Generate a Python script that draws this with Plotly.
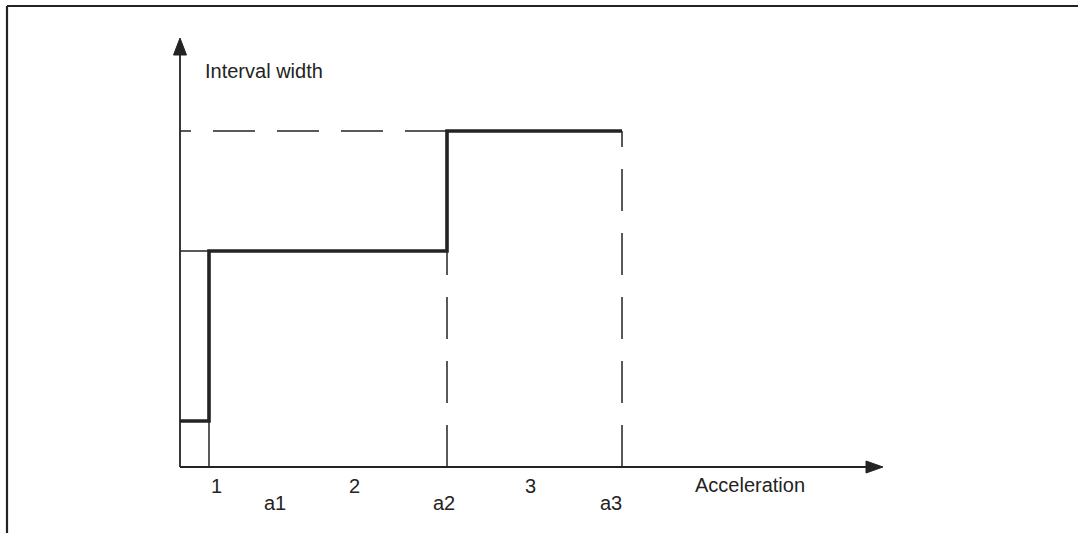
import plotly.graph_objects as go

# Acceleration breakpoints (origin, end of range 1, a2, a3) and interval-width levels
accel_breaks = [0, 29, 267, 442]
width_levels = [46, 216, 336]

# Labels under the acceleration axis
range_labels = ["1", "2", "3"]
range_label_x = [36, 174, 350]
threshold_labels = ["a1", "a2", "a3"]
threshold_label_x = [95, 264, 431]

# Axis extents (arrow tips) and surrounding frame
x_axis_end = 703
y_axis_end = 429
frame_left = -173
frame_top = 461

INK = "#232323"
FONT = dict(family="Liberation Sans, Arial, sans-serif", size=20, color=INK)
DASH = "42px,22px"

fig = go.Figure()


def seg(xs, ys, width=1.6, dash="solid", color=INK):
    fig.add_trace(go.Scatter(
        x=xs, y=ys, mode="lines", hoverinfo="skip", showlegend=False,
        line=dict(color=color, width=width, dash=dash),
    ))


# Frame lines (top and left)
seg([frame_left, 898], [frame_top, frame_top], width=2.2)
seg([frame_left, frame_left], [frame_top, -70], width=2.2)

# Axes
seg([0, 0], [0, y_axis_end - 10], width=1.8)
seg([0, x_axis_end - 10], [0, 0], width=1.8)

# Thin box marking range 1
seg([0, accel_breaks[1], accel_breaks[1]], [width_levels[1], width_levels[1], 0], width=1.5)

# Dashed guide lines
seg([accel_breaks[2], 0], [width_levels[2], width_levels[2]], width=1.5, dash=DASH)
seg([accel_breaks[2], accel_breaks[2]], [0, width_levels[1]], width=1.5, dash=DASH)
seg([accel_breaks[3], accel_breaks[3]], [0, width_levels[2]], width=1.5, dash=DASH)

# Step curve of the interval width
step_x = [accel_breaks[0], accel_breaks[1], accel_breaks[1],
          accel_breaks[2], accel_breaks[2], accel_breaks[3]]
step_y = [width_levels[0], width_levels[0], width_levels[1],
          width_levels[1], width_levels[2], width_levels[2]]
seg(step_x, step_y, width=3.6)

# Arrow heads
fig.add_shape(type="path", xref="x", yref="y",
              path=f"M 0 {y_axis_end} L -6.5 {y_axis_end - 17} L 6.5 {y_axis_end - 17} Z",
              fillcolor=INK, line=dict(color=INK, width=1))
fig.add_shape(type="path", xref="x", yref="y",
              path=f"M {x_axis_end} 0 L {x_axis_end - 17} 6 L {x_axis_end - 17} -6 Z",
              fillcolor=INK, line=dict(color=INK, width=1))

annotations = [
    dict(x=23, y=396, text="Interval width", xanchor="left", yanchor="middle"),
    dict(x=570, y=-18, text="Acceleration", xanchor="center", yanchor="middle"),
]
for lbl, xv in zip(range_labels, range_label_x):
    annotations.append(dict(x=xv, y=-19, text=lbl, xanchor="center", yanchor="middle"))
for lbl, xv in zip(threshold_labels, threshold_label_x):
    annotations.append(dict(x=xv, y=-36, text=lbl, xanchor="center", yanchor="middle"))
for a in annotations:
    a.update(xref="x", yref="y", showarrow=False, font=FONT)

fig.update_layout(
    width=1078, height=533,
    margin=dict(l=0, r=0, t=0, b=0),
    paper_bgcolor="white", plot_bgcolor="white",
    xaxis=dict(range=[-180, 898], visible=False, fixedrange=True),
    yaxis=dict(range=[-66, 467], visible=False, fixedrange=True),
    annotations=annotations,
    showlegend=False,
)

fig.write_html("out.html", config={"displayModeBar": False})
